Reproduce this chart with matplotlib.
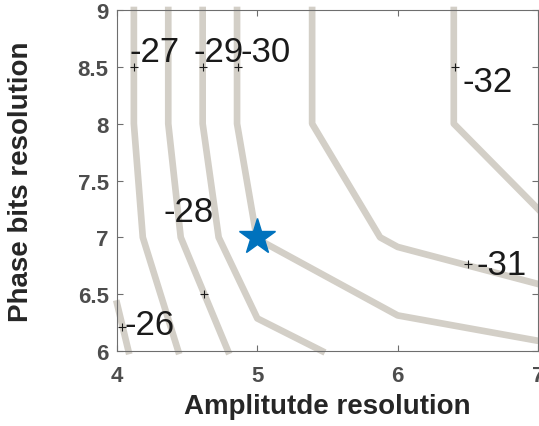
import numpy as np
import matplotlib.pyplot as plt

plt.rcParams['font.family'] = ['Liberation Sans', 'DejaVu Sans']

# grid of the sweep
amp_bits = [4, 5, 6, 7]
phase_bits = [6, 7, 8, 9]
# side lobe level (dB) at each grid node, rows = phase bits, cols = amplitude bits
sll = [[-25.77, -28.59, -29.48, -29.82],
       [-26.32, -30.02, -31.14, -31.82],
       [-26.51, -30.59, -31.64, -32.54],
       [-26.51, -30.59, -31.64, -32.54]]
levels = [-32, -31, -30, -29, -28, -27, -26]

# clabel positions (the + marks) and where the label text sits
label_vals = [-27, -29, -30, -32, -31, -26, -28]
label_x = [4.12, 4.61, 4.86, 6.41, 6.50, 4.036, 4.62]
label_y = [8.5, 8.5, 8.5, 8.5, 6.765, 6.211, 6.5]
text_x = [4.086, 4.542, 4.877, 6.459, 6.565, 4.05, 4.328]
text_y = [8.551, 8.551, 8.551, 8.287, 6.677, 6.150, 7.144]

# chosen design point
opt_x = [5]
opt_y = [7]

yticks = [6, 6.5, 7, 7.5, 8, 8.5, 9]
ytick_labels = ['6', '6.5', '7', '7.5', '8', '8.5', '9']
xticks = [4, 5, 6, 7]
xtick_labels = ['4', '5', '6', '7']

fig = plt.figure(figsize=(5.39, 4.27), dpi=100)
ax = fig.add_axes([0.2171, 0.1756, 0.7810, 0.7986])

X, Y = np.meshgrid(amp_bits, phase_bits)
cs = ax.contour(X, Y, np.array(sll), levels=levels, colors='#d3cfc7',
                linewidths=4.8, linestyles='solid')
cs.set_clip_on(False)
cs.set_capstyle('projecting')

ax.plot(label_x, label_y, '+', color='#1a1a1a', ms=6, mew=0.8, clip_on=False)
for v, tx, ty in zip(label_vals, text_x, text_y):
    ax.text(tx, ty, str(v), fontsize=25, color='#1a1a1a', ha='left', va='baseline')

ax.plot(opt_x, opt_y, '*', color='#0072bd', ms=27, mec='#0072bd', clip_on=False, zorder=5)

ax.set_xlim(4, 7)
ax.set_ylim(6, 9)
ax.set_xticks(xticks)
ax.set_xticklabels(xtick_labels)
ax.set_yticks(yticks)
ax.set_yticklabels(ytick_labels)
ax.tick_params(direction='in', top=True, right=True, length=4, width=0.8,
               color='#6e6e6e', labelcolor='#4d4d4d', labelsize=16)
ax.tick_params(axis='x', pad=10)
ax.tick_params(axis='y', pad=6)
for lab in ax.get_xticklabels() + ax.get_yticklabels():
    lab.set_fontweight('bold')
for sp in ax.spines.values():
    sp.set_color('#6e6e6e')
    sp.set_linewidth(0.8)

ax.set_xlabel('Amplitutde resolution', fontsize=20, fontweight='bold', color='#262626', va='center')
ax.set_ylabel('Phase bits resolution', fontsize=20, fontweight='bold', color='#262626', va='center')
ax.xaxis.set_label_coords(0.5, -0.16)
ax.yaxis.set_label_coords(-0.227, 0.5)

fig.savefig('out.png', dpi=100)
